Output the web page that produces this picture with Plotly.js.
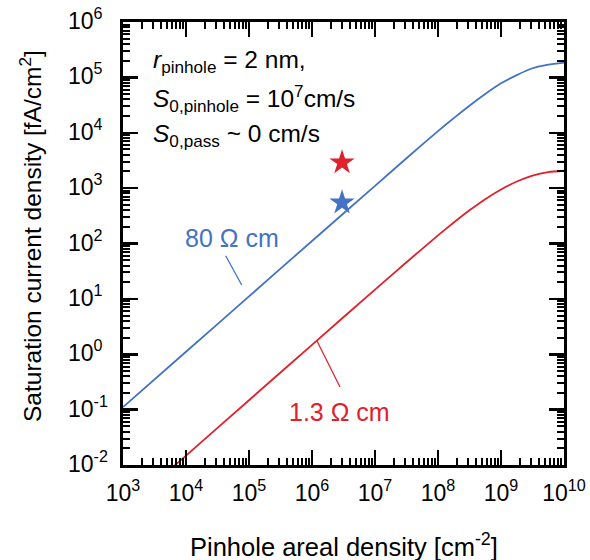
<!DOCTYPE html>
<html>
<head>
<meta charset="utf-8">
<script src="https://cdn.plot.ly/plotly-3.0.1.min.js"></script>
<style>html,body{margin:0;padding:0;background:#fff;}#chart{width:590px;height:560px;}</style>
</head>
<body>
<div id="chart"></div>
<script>
// Pinhole areal density [cm^-2]
var pinholeDensity = [1e3, 1e4, 1e5, 1e6, 1e7, 3.16e7, 1e8, 1.78e8, 3.16e8, 5.62e8, 1e9, 1.78e9, 3.16e9, 5.62e9, 1e10];
// Saturation current density [fA/cm^2], 80 Ohm cm
var j0_80ohm = [0.111, 1.11, 11.1, 111, 1100, 3470, 10700, 18400, 30800, 50000, 78000, 110000, 146000, 170000, 185000];
// Saturation current density [fA/cm^2], 1.3 Ohm cm
var j0_1p3ohm = [0.00148, 0.0148, 0.148, 1.48, 14.7, 45.9, 140, 239, 397, 632, 946, 1315, 1683, 1950, 2060];
// Star markers
var starX = [3.0e6];
var starRedY = [2900];
var starBlueY = [547];
// Tick exponents
var yTickExp = [-2, -1, 0, 1, 2, 3, 4, 5, 6];
var xTickExp = [3, 4, 5, 6, 7, 8, 9, 10];

var BLUE = '#4472C4';
var RED = '#E0202A';
var FONT = 'Liberation Sans, Arial, Helvetica, sans-serif';

var traces = [
  {x: pinholeDensity, y: j0_80ohm, mode: 'lines', line: {color: BLUE, width: 1.8, shape: 'spline', smoothing: 0.6}, showlegend: false, hoverinfo: 'skip'},
  {x: pinholeDensity, y: j0_1p3ohm, mode: 'lines', line: {color: RED, width: 1.8, shape: 'spline', smoothing: 0.6}, showlegend: false, hoverinfo: 'skip'},
  {x: starX, y: starRedY, mode: 'markers', marker: {symbol: 'star', size: 19, color: RED, line: {width: 0}}, showlegend: false},
  {x: starX, y: starBlueY, mode: 'markers', marker: {symbol: 'star', size: 19, color: BLUE, line: {width: 0}}, showlegend: false}
];

var W = 441, H = 443, L = 123, T = 22;
function px(xp) { return (xp - L) / W; }
function py(yp) { return (T + H - yp) / H; }
function sup(e) { return '10<sup>' + e + '</sup>'; }

var annotations = [];
yTickExp.forEach(function (e) {
  annotations.push({
    xref: 'paper', yref: 'y', x: px(66), y: e, xanchor: 'left', yanchor: 'middle',
    yshift: 3, showarrow: false,
    text: sup(e), font: {family: FONT, size: 23, color: '#000'}
  });
});
annotations.push(
  {xref: 'paper', yref: 'paper', x: px(151), y: py(61), xanchor: 'left', yanchor: 'middle', showarrow: false,
   text: '<i>r</i><sub>pinhole</sub> = 2 nm,', font: {family: FONT, size: 24.5, color: '#000'}},
  {xref: 'paper', yref: 'paper', x: px(151), y: py(99), xanchor: 'left', yanchor: 'middle', showarrow: false,
   text: '<i>S</i><sub>0,pinhole</sub> = 10<sup>7</sup>cm/s', font: {family: FONT, size: 24.5, color: '#000'}},
  {xref: 'paper', yref: 'paper', x: px(151), y: py(136), xanchor: 'left', yanchor: 'middle', showarrow: false,
   text: '<i>S</i><sub>0,pass</sub> ~ 0 cm/s', font: {family: FONT, size: 24.5, color: '#000'}},
  {xref: 'paper', yref: 'paper', x: px(231.7), y: py(238.5), xanchor: 'center', yanchor: 'middle', showarrow: false,
   text: '80 Ω cm', font: {family: FONT, size: 25, color: BLUE}},
  {xref: 'paper', yref: 'paper', x: px(339), y: py(412.4), xanchor: 'center', yanchor: 'middle', showarrow: false,
   text: '1.3 Ω cm', font: {family: FONT, size: 25, color: RED}},
  {xref: 'paper', yref: 'paper', x: px(30), y: py(236), xanchor: 'center', yanchor: 'middle', textangle: -90, showarrow: false,
   text: 'Saturation current density [fA/cm<sup>2</sup>]', font: {family: FONT, size: 24.5, color: '#000'}},
  {xref: 'paper', yref: 'paper', x: px(344), y: py(545), xanchor: 'center', yanchor: 'middle', showarrow: false,
   text: 'Pinhole areal density [cm<sup>-2</sup>]', font: {family: FONT, size: 25.5, color: '#000'}}
);

var shapes = [
  {type: 'line', xref: 'paper', yref: 'paper', x0: px(225.7), y0: py(255.7), x1: px(241.7), y1: py(285), line: {color: BLUE, width: 1.3}},
  {type: 'line', xref: 'paper', yref: 'paper', x0: px(317), y0: py(341), x1: px(340), y1: py(387), line: {color: RED, width: 1.3}}
];

var axisCommon = {
  type: 'log', showline: true, linecolor: '#000', linewidth: 3, mirror: 'allticks',
  ticks: 'inside', ticklen: 15, tickwidth: 2.5, tickcolor: '#000',
  showgrid: false, zeroline: false,
  minor: {ticks: 'inside', ticklen: 7, tickwidth: 2, tickcolor: '#000', dtick: 'D1', showgrid: false}
};

var layout = {
  width: 590, height: 560,
  margin: {l: L, r: 590 - L - W, t: T, b: 560 - T - H, pad: 0},
  paper_bgcolor: '#fff', plot_bgcolor: '#fff',
  font: {family: FONT, size: 22, color: '#000'},
  xaxis: Object.assign({}, axisCommon, {
    range: [xTickExp[0], xTickExp[xTickExp.length - 1]],
    tickmode: 'array',
    tickvals: xTickExp.map(function (e) { return Math.pow(10, e); }),
    ticktext: xTickExp.map(sup),
    ticklabeloverflow: 'allow',
    tickfont: {family: FONT, size: 23, color: '#000'}, ticklabelstandoff: 5
  }),
  yaxis: Object.assign({}, axisCommon, {
    range: [yTickExp[0], yTickExp[yTickExp.length - 1]], dtick: 1, showticklabels: false
  }),
  annotations: annotations,
  shapes: shapes,
  showlegend: false
};

Plotly.newPlot('chart', traces, layout, {displayModeBar: false, staticPlot: true});
</script>
</body>
</html>
